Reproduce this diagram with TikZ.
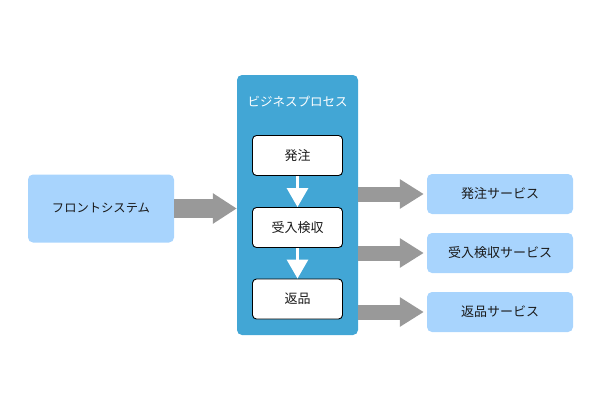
\documentclass[tikz,border=0pt]{standalone}
\usepackage{fontspec}
\setmainfont{Noto Sans CJK JP}
\usetikzlibrary{arrows.meta}
\definecolor{lightblue}{HTML}{A8D4FD}
\definecolor{procblue}{HTML}{42A6D5}
\definecolor{arrowgray}{HTML}{999999}
\definecolor{txt}{HTML}{1A1A1A}
\tikzset{
  svc/.style={fill=lightblue, draw=none, rounded corners=5pt, minimum width=146pt, minimum height=40pt, inner sep=0pt, text=txt, font=\fontsize{13pt}{15pt}\selectfont},
  proc/.style={fill=procblue, draw=none, rounded corners=5pt, minimum width=121pt, minimum height=260pt, inner sep=0pt},
  stepbox/.style={fill=white, draw=black, line width=0.9pt, rounded corners=4pt, minimum width=90pt, minimum height=40pt, inner sep=0pt, text=txt, font=\fontsize{13pt}{15pt}\selectfont},
  grayarrow/.style={draw=arrowgray, line width=15pt, -{Triangle[length=24pt,width=28pt]}},
  whitearrow/.style={draw=white, line width=3pt, -{Triangle[length=19pt,width=21pt]}},
}
\begin{document}
\begin{tikzpicture}[x=1pt,y=-1pt]
\useasboundingbox (0,0) rectangle (600,400);
\node[svc, minimum height=68pt, font=\fontsize{12.3pt}{14pt}\selectfont] (front) at (101,208.5) {フロントシステム};
\node[proc] (proc) at (297.5,205) {};
\node[text=white, font=\fontsize{12.5pt}{14pt}\selectfont] (title) at (297.5,102) {ビジネスプロセス};
\node[stepbox] (s1) at (297.5,155.5) {発注};
\node[stepbox] (s2) at (297.5,227.5) {受入検収};
\node[stepbox] (s3) at (297.5,299) {返品};
\node[svc] (o1) at (500,194) {発注サービス};
\node[svc] (o2) at (500,253) {受入検収サービス};
\node[svc] (o3) at (500,312) {返品サービス};
\draw[grayarrow, line width=19pt, -{Triangle[length=24pt,width=29pt]}] (front.east) -- (proc.west |- front.east);
\draw[whitearrow] (s1.south) -- (s2.north);
\draw[whitearrow] (s2.south) -- (s3.north);
\draw[grayarrow, shorten >=3pt] (proc.east |- o1.west) -- (o1.west);
\draw[grayarrow, shorten >=3pt] (proc.east |- o2.west) -- (o2.west);
\draw[grayarrow, shorten >=3pt] (proc.east |- o3.west) -- (o3.west);
\end{tikzpicture}
\end{document}
